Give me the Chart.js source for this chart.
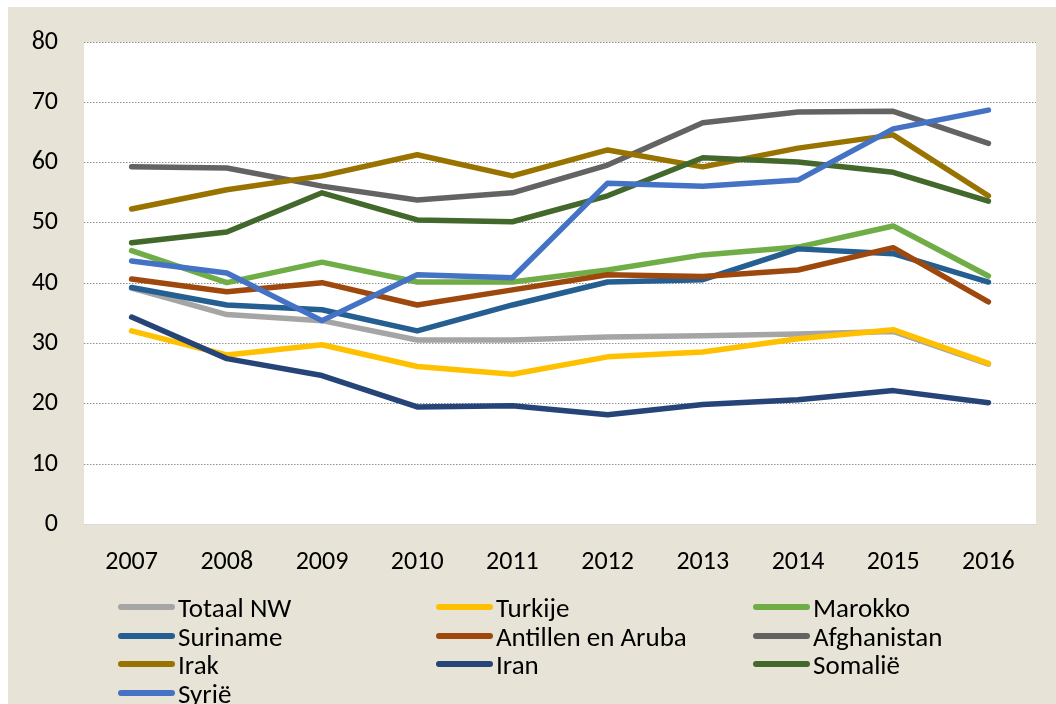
<!DOCTYPE html>
<html>
<head>
<meta charset="utf-8">
<script src="https://cdn.jsdelivr.net/npm/chart.js@4.4.1/dist/chart.umd.min.js"></script>
<style>
  html, body { margin: 0; padding: 0; background: #ffffff; }
  #wrap { position: relative; width: 1056px; height: 704px; overflow: hidden; }
  #c { position: absolute; left: 0; top: 0; }
  .leg { position: absolute; display: flex; align-items: center; font-family: Carlito, "Liberation Sans", Arial, sans-serif; font-size: 27px; color: #000; white-space: nowrap; }
  .leg .sw { width: 57px; height: 6px; border-radius: 3px; margin-right: 3px; }
</style>
</head>
<body>
<div id="wrap">
  <canvas id="c" width="1056" height="704"></canvas>
</div>
<script>
const years = ['2007','2008','2009','2010','2011','2012','2013','2014','2015','2016'];
const seriesNames = ['Totaal NW','Turkije','Marokko','Suriname','Antillen en Aruba','Afghanistan','Irak','Iran','Somalië','Syrië'];
const totaalNW    = [39.2, 34.8, 33.8, 30.6, 30.6, 31.1, 31.3, 31.6, 32.0, 26.6];
const turkije     = [32.1, 28.1, 29.8, 26.2, 24.9, 27.8, 28.6, 30.8, 32.3, 26.7];
const marokko     = [45.4, 40.1, 43.5, 40.2, 40.2, 42.2, 44.7, 46.0, 49.5, 41.2];
const suriname    = [39.3, 36.4, 35.6, 32.1, 36.4, 40.2, 40.6, 45.7, 44.9, 40.2];
const antillen    = [40.7, 38.6, 40.1, 36.4, 38.9, 41.4, 41.1, 42.2, 45.9, 36.9];
const afghanistan = [59.3, 59.1, 56.1, 53.8, 55.0, 59.6, 66.6, 68.4, 68.5, 63.2];
const irak        = [52.3, 55.5, 57.8, 61.3, 57.8, 62.1, 59.3, 62.4, 64.6, 54.5];
const iran        = [34.4, 27.5, 24.7, 19.5, 19.7, 18.2, 19.9, 20.7, 22.2, 20.2];
const somalie     = [46.7, 48.5, 55.0, 50.5, 50.2, 54.5, 60.8, 60.1, 58.4, 53.6];
const syrie       = [43.7, 41.7, 33.8, 41.4, 40.9, 56.6, 56.1, 57.1, 65.6, 68.7];
const yTicks = [0, 10, 20, 30, 40, 50, 60, 70, 80];

const allValues = [totaalNW, turkije, marokko, suriname, antillen, afghanistan, irak, iran, somalie, syrie];
const colors = ['#A5A5A5','#FFC000','#70AD47','#255E91','#9E480E','#636363','#997300','#264478','#43682B','#4472C4'];

const datasets = seriesNames.map((name, i) => ({
  label: name,
  data: allValues[i],
  borderColor: colors[i],
  backgroundColor: colors[i],
  borderWidth: 5.5,
  borderCapStyle: 'round',
  borderJoinStyle: 'round',
  pointRadius: 0,
  pointHoverRadius: 0,
  tension: 0,
  fill: false,
  order: seriesNames.length - 1 - i
}));

const FONT = { family: 'Carlito, "Liberation Sans", Arial, sans-serif', size: 26 };

const bgPlugin = {
  id: 'bg',
  beforeDraw(chart) {
    const ctx = chart.ctx;
    const a = chart.chartArea;
    ctx.save();
    ctx.fillStyle = '#ffffff';
    ctx.fillRect(0, 0, chart.width, chart.height);
    ctx.fillStyle = '#E7E4D7';
    ctx.fillRect(8, 7, chart.width - 8, chart.height - 7);
    ctx.fillStyle = '#ffffff';
    ctx.fillRect(a.left, a.top, a.right - a.left, a.bottom - a.top);
    ctx.restore();
  }
};

new Chart(document.getElementById('c'), {
  type: 'line',
  data: { labels: years, datasets: datasets },
  options: {
    responsive: false,
    devicePixelRatio: 1,
    animation: false,
    layout: { padding: { left: 8, right: 20, top: 42, bottom: 0 } },
    plugins: { legend: { display: false }, tooltip: { enabled: false } },
    scales: {
      x: {
        offset: true,
        grid: { display: false, drawTicks: false },
        border: { display: true, color: '#D9D9D9', width: 1 },
        ticks: { font: FONT, color: '#000', padding: 22, maxRotation: 0 },
        afterFit(s) { s.height = 179.5; }
      },
      y: {
        min: 0, max: 80,
        afterBuildTicks(s) { s.ticks = yTicks.map(v => ({ value: v })); },
        grid: {
          drawTicks: false,
          color: (ctx) => (ctx.tick && ctx.tick.value === 0) ? 'rgba(0,0,0,0)' : '#909090',
          lineWidth: 1
        },
        border: { display: false, dash: [1.5, 1.5] },
        ticks: { font: FONT, color: '#000', padding: 26 },
        afterFit(s) { s.width = 76; }
      }
    }
  },
  plugins: [bgPlugin]
});

// HTML legend, 3 columns
const wrap = document.getElementById('wrap');
const colX = [118, 436, 753];
const rowY = [607, 636, 664, 693];
seriesNames.forEach((name, i) => {
  const d = document.createElement('div');
  d.className = 'leg';
  d.style.left = colX[i % 3] + 'px';
  d.style.top = (rowY[Math.floor(i / 3)] - 15) + 'px';
  d.style.height = '30px';
  const sw = document.createElement('span');
  sw.className = 'sw';
  sw.style.background = colors[i];
  const t = document.createElement('span');
  t.textContent = name;
  d.appendChild(sw);
  d.appendChild(t);
  wrap.appendChild(d);
});
</script>
</body>
</html>
